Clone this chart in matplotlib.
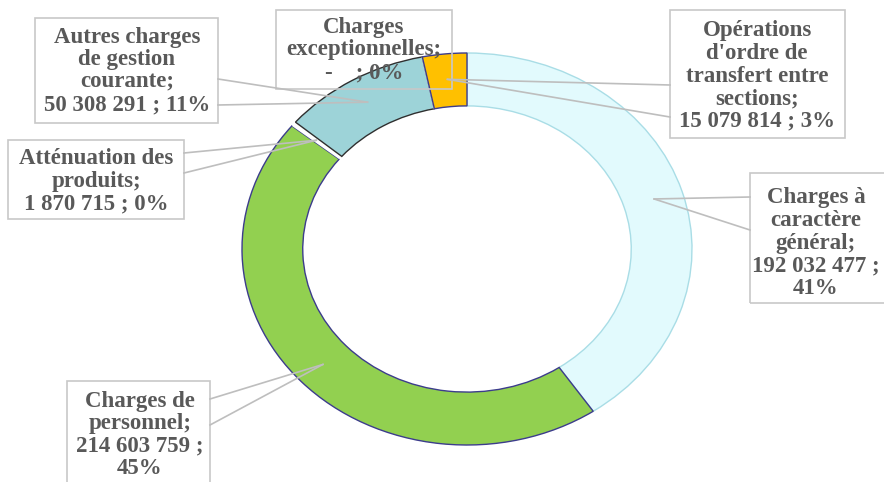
import numpy as np
import matplotlib.pyplot as plt
from matplotlib.patches import Rectangle

# donnees
noms = ["Charges à\ncaractère\ngénéral;", "Charges de\npersonnel;", "Atténuation des\nproduits;",
        "Autres charges\nde gestion\ncourante;", "Charges\nexceptionnelles;",
        "Opérations\nd'ordre de\ntransfert entre\nsections;"]
valeurs = [192032477, 214603759, 1870715, 50308291, 0, 15079814]
couleurs = ["#E2FAFD", "#92D050", "#FFFFFF", "#9DD3D8", "#FFFFFF", "#FFC000"]
bords = ["#A9DDE6", "#3C3C8C", "#FFFFFF", "#2F2F2F", "#FFFFFF", "#3C3C8C"]

# mise en page (pixels)
W, H = 884, 482
cx, cy, rx, ry = 467, 249, 225, 196
boites = [(750, 173, 900, 303), (67, 381, 210, 492), (8, 140, 184, 219),
          (35, 18, 218, 123), (276, 10, 452, 89), (670, 10, 845, 138)]
centres_txt = [(816, 243), (140, 435), (96, 181), (127, 71), (364, 50), (757, 76)]
pieds = [((750, 197), (750, 230)), ((210, 399), (210, 425)), ((184, 153), (184, 173)),
         ((218, 79), (218, 105)), None, ((670, 85), (670, 117))]


def px(x, y):
    return (x - cx) / rx, (cy - y) / ry


def fmt(v):
    return "-   " if v == 0 else f"{v:,}".replace(",", " ")


fig = plt.figure(figsize=(8.84, 4.82), dpi=100)
ax = fig.add_axes([0, 0, 1, 1])
total = sum(valeurs)
wedges, _ = ax.pie(valeurs, colors=couleurs, startangle=90, counterclock=False,
                   radius=1, wedgeprops=dict(width=0.27, linewidth=1.0, zorder=2))
for w, b in zip(wedges, bords):
    w.set_edgecolor(b)
wedges[2].set_linewidth(0)
ax.set_aspect("auto")
ax.set_xlim(-cx / rx, (W - cx) / rx)
ax.set_ylim(-(H - cy) / ry, cy / ry)
ax.axis("off")

cum = 0
for i, v in enumerate(valeurs):
    mid = cum + v / 2
    cum += v
    th = np.deg2rad(90 - 360 * mid / total)
    ancre = (0.87 * np.cos(th), 0.87 * np.sin(th))
    x0, y0, x1, y1 = boites[i]
    a0, b1 = px(x0, y0)
    a1, b0 = px(x1, y1)
    ax.add_patch(Rectangle((a0, b0), a1 - a0, b1 - b0, facecolor="none",
                           edgecolor="#C8C8C8", linewidth=1.2, zorder=3))
    if pieds[i] is not None:
        for p in pieds[i]:
            q = px(*p)
            ax.plot([q[0], ancre[0]], [q[1], ancre[1]], color="#BEBEBE", lw=1.2, zorder=4)
    pct = f"{round(100 * v / total)}%"
    if i in (0, 1):
        txt = noms[i] + "\n" + fmt(v) + " ;\n" + pct
    else:
        txt = noms[i] + "\n" + fmt(v) + " ; " + pct
    tx, ty = px(*centres_txt[i])
    ax.text(tx, ty, txt, ha="center", va="center", fontsize=16.5, fontweight="bold",
            family="Liberation Serif", color="#595959", linespacing=1.1, zorder=5)

fig.savefig("out.png", dpi=100)
